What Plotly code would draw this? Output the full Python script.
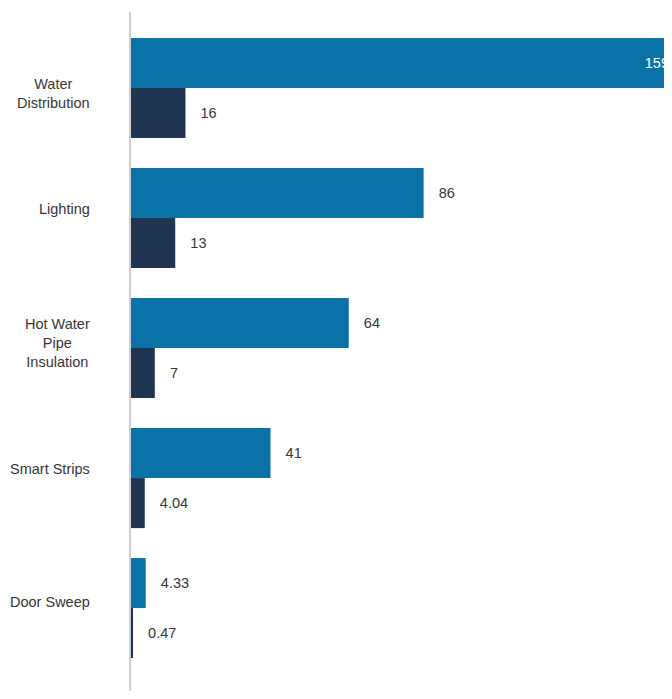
import plotly.graph_objects as go

categories = ["Water<br>Distribution", "Lighting", "Hot Water<br>Pipe<br>Insulation", "Smart Strips", "Door Sweep"]
series_a = [159, 86, 64, 41, 4.33]
series_b = [16, 13, 7, 4.04, 0.47]
names = ["Series A", "Series B"]
colors = ["#0b72a8", "#1f3450"]
label_shift = [-5, 9, 5, 9, 6]

def fmt(v):
    return "{:g}".format(v)

X_MAX = 159
FONT = "Liberation Sans, Arial"

fig = go.Figure()
for vals, name, col in zip([series_a, series_b], names, colors):
    pos = ["inside" if v >= X_MAX * 0.97 else "outside" for v in vals]
    txt = [fmt(v) if p == "inside" else "\u00a0\u00a0\u00a0" + fmt(v) for v, p in zip(vals, pos)]
    fig.add_trace(go.Bar(
        y=categories, x=vals, orientation="h", name=name,
        marker=dict(color=col, line=dict(width=0)),
        text=txt, textposition=pos, insidetextanchor="end",
        insidetextfont=dict(color="white", size=14.5, family=FONT),
        outsidetextfont=dict(color="#363636", size=14.5, family=FONT),
        constraintext="none", cliponaxis=False, hoverinfo="skip",
    ))

for c, s in zip(categories, label_shift):
    fig.add_annotation(
        x=-0.072, xref="paper", xanchor="right", y=c, yref="y", yshift=s,
        text=c, showarrow=False, align="center",
        font=dict(size=14.5, color="#363636", family=FONT),
    )

fig.update_layout(
    width=664, height=683,
    margin=dict(l=123, r=0, t=4, b=0),
    barmode="group", bargap=0.23, bargroupgap=0,
    plot_bgcolor="white", paper_bgcolor="white",
    showlegend=False,
    xaxis=dict(range=[0, X_MAX], showgrid=False, zeroline=False, showticklabels=False,
               showline=False, ticks=""),
    yaxis=dict(type="category", categoryorder="array", categoryarray=categories,
               range=[4.638, -0.585], showticklabels=False, ticks="", showgrid=False,
               zeroline=False, showline=True, linecolor="#cfcfcf", linewidth=2),
)

fig.write_html("out.html")
